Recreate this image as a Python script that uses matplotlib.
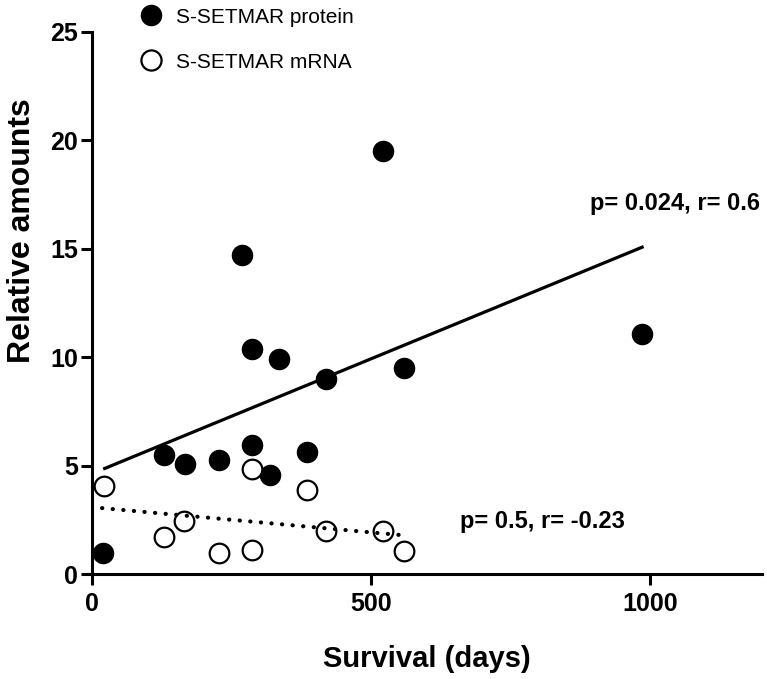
import matplotlib
matplotlib.use("Agg")
import matplotlib.pyplot as plt
from matplotlib.lines import Line2D

# Data
protein_days = [20, 129, 167, 228, 287, 319, 385, 268, 287, 335, 419, 521, 558, 985]
protein_vals = [0.97, 5.48, 5.07, 5.25, 5.94, 4.56, 5.62, 14.7, 10.4, 9.9, 8.98, 19.5, 9.5, 11.06]

mrna_days = [21, 129, 165, 228, 287, 287, 385, 419, 521, 558]
mrna_vals = [4.06, 1.72, 2.45, 0.96, 1.1, 4.84, 3.87, 1.98, 1.98, 1.06]

# regression line endpoints
protein_fit_x = [20, 988]
protein_fit_y = [4.84, 15.1]
mrna_fit_x = [18, 552]
mrna_fit_y = [3.04, 1.8]

x_ticks = [0, 500, 1000]
y_ticks = [0, 5, 10, 15, 20, 25]

plt.rcParams['font.family'] = ['Liberation Sans', 'DejaVu Sans']

fig = plt.figure(figsize=(7.67, 6.79), dpi=100)
ax = fig.add_axes([0.12, 0.1546, 0.8735, 0.7984])

ax.plot(protein_fit_x, protein_fit_y, color='black', lw=2.3, zorder=2,
        solid_capstyle='butt')
ax.scatter(protein_days, protein_vals, s=210, color='black', zorder=3)
ax.scatter(mrna_days, mrna_vals, s=200, facecolor='white', edgecolor='black',
           linewidths=1.6, zorder=4)
ax.plot(mrna_fit_x, mrna_fit_y, color='black', lw=3.0, zorder=5,
        linestyle=(0, (0.05, 2.5)), dash_capstyle='round')

ax.set_xlim(0, 1200)
ax.set_ylim(0, 25)
ax.set_xticks(x_ticks)
ax.set_yticks(y_ticks)
for s in ['top', 'right']:
    ax.spines[s].set_visible(False)
for s in ['left', 'bottom']:
    ax.spines[s].set_linewidth(2.2)
ax.tick_params(direction='out', length=8, width=2.2, labelsize=18)
ax.tick_params(axis='x', pad=5)
ax.tick_params(axis='y', pad=2)
for lab in ax.get_xticklabels() + ax.get_yticklabels():
    lab.set_fontweight('bold')

ax.set_xlabel('Survival (days)', fontsize=21, fontweight='bold')
ax.xaxis.set_label_coords(0.5, -0.13)
ax.set_ylabel('Relative amounts', fontsize=23, fontweight='bold')
ax.yaxis.set_label_coords(-0.082, 0.633)

ax.text(1197, 17.1, 'p= 0.024, r= 0.6', fontsize=17, fontweight='bold',
        ha='right', va='center')
ax.text(955, 2.4, 'p= 0.5, r= -0.23', fontsize=17, fontweight='bold',
        ha='right', va='center')

handles = [
    Line2D([], [], marker='o', linestyle='none', markersize=14.5,
           markerfacecolor='black', markeredgecolor='black'),
    Line2D([], [], marker='o', linestyle='none', markersize=14.5,
           markerfacecolor='white', markeredgecolor='black', markeredgewidth=1.6),
]
leg = ax.legend(handles, ['S-SETMAR protein', 'S-SETMAR mRNA'],
                loc='upper left', bbox_to_anchor=(0.045, 1.06),
                frameon=False, fontsize=15, handletextpad=0.2,
                labelspacing=1.25, borderaxespad=0)

fig.savefig('out.png', dpi=100)
